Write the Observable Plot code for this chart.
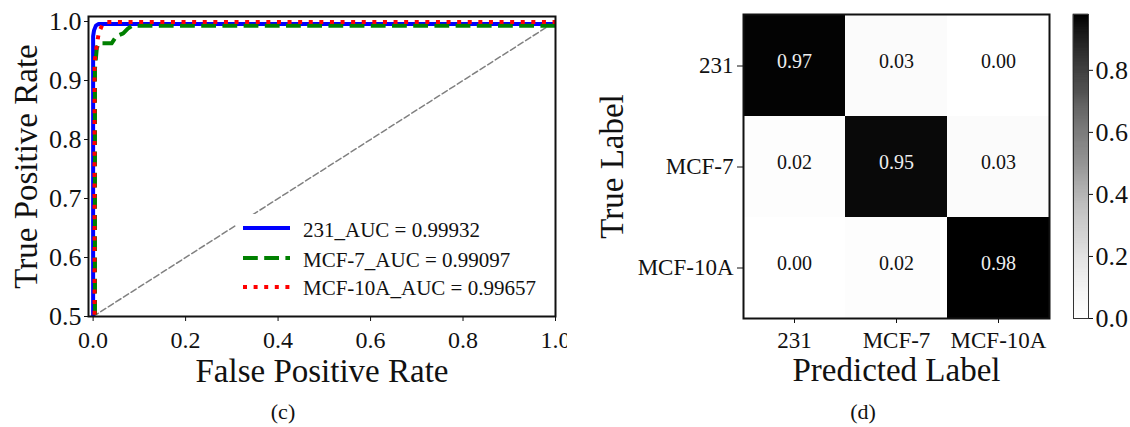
<!DOCTYPE html>
<html><head><meta charset="utf-8">
<script src="https://cdn.jsdelivr.net/npm/d3@7"></script>
<script src="https://cdn.jsdelivr.net/npm/@observablehq/plot@0.6"></script>
<style>
body{margin:0;background:#fff;width:1130px;height:427px;overflow:hidden;position:relative;font-family:"Liberation Serif","Times New Roman",serif;}
.panel{position:absolute;top:0;}
.cap{position:absolute;font-size:22px;line-height:22px;transform:translateX(-50%);color:#111;}
svg{max-width:none !important;}
svg text{font-family:"Liberation Serif","Times New Roman",serif;}
</style></head><body>
<div id="roc" class="panel" style="left:0;width:567px;height:400px;overflow:hidden"></div>
<div id="cm" class="panel" style="left:580px"></div>
<div id="cb" class="panel" style="left:1060px"></div>
<div id="legend" class="panel" style="left:236px;top:214px"></div>
<div class="cap" style="left:283px;top:401px">(c)</div>
<div class="cap" style="left:863px;top:401px">(d)</div>
<script>
// ---------- ROC data ----------
const fpr231 = [0, 0, 0.002, 0.006, 0.012, 1.0, 1.0];
const tpr231 = [0, 0.975, 0.985, 0.993, 0.996, 0.996, 1.0];
const fprMCF7 = [0.004, 0.004, 0.008, 0.012, 0.04, 0.05, 0.065, 0.075, 0.085, 1.0, 1.0];
const tprMCF7 = [0, 0.92, 0.955, 0.963, 0.963, 0.975, 0.98, 0.988, 0.993, 0.993, 1.0];
const fprMCF10A = [0.003, 0.003, 0.008, 0.012, 0.02, 0.03, 1.0];
const tprMCF10A = [0, 0.93, 0.96, 0.98, 0.995, 0.999, 0.999];
const diagX = [0, 1];
const diagY = [0.5, 1];
const seriesNames = ["231_AUC = 0.99932", "MCF-7_AUC = 0.99097", "MCF-10A_AUC = 0.99657"];
const seriesColors = ["#0000ff", "#008000", "#ff0000"];
const seriesDash = [null, "14.8,6.4", "4,6.6"];
const rocXTicks = [0, 0.2, 0.4, 0.6, 0.8, 1.0];
const rocYTicks = [0.5, 0.6, 0.7, 0.8, 0.9, 1.0];

// ---------- Confusion matrix data ----------
const classes = ["231", "MCF-7", "MCF-10A"];
const matrix = [
  [0.97, 0.03, 0.00],
  [0.02, 0.95, 0.03],
  [0.00, 0.02, 0.98]
];
const cbTicks = [0, 0.2, 0.4, 0.6, 0.8];
const cmMax = 0.98;

const zip = (xs, ys) => xs.map((x, i) => ({x, y: ys[i]}));
const roc = [zip(fpr231, tpr231), zip(fprMCF7, tprMCF7), zip(fprMCF10A, tprMCF10A)];
const fmt1 = d3.format(".1f");
const font = "Liberation Serif";

const rocPlot = Plot.plot({
  width: 570, height: 400,
  marginLeft: 88, marginRight: 15, marginTop: 16, marginBottom: 84,
  style: {fontFamily: font, color: "#111", background: "white", maxWidth: "none"},
  x: {domain: [-0.01, 1.0]},
  y: {domain: [0.5, 1.0085]},
  marks: [
    Plot.line(zip(diagX, diagY), {x: "x", y: "y", stroke: "#808080", strokeWidth: 1.5, strokeDasharray: "6,3", clip: true}),
    ...roc.map((d, i) => Plot.line(d, {x: "x", y: "y", stroke: seriesColors[i], strokeWidth: 4,
      strokeDasharray: seriesDash[i], strokeLinecap: "butt", strokeLinejoin: "round", clip: true})),
    Plot.frame({stroke: "#111", strokeWidth: 2}),
    Plot.axisX({ticks: rocXTicks, tickFormat: fmt1, tickSize: 5, tickPadding: 9, fontSize: 24, label: null}),
    Plot.axisY({ticks: rocYTicks, tickFormat: fmt1, tickSize: 4, tickPadding: 3, fontSize: 26, label: null}),
    Plot.text(["False Positive Rate"], {text: d => d, frameAnchor: "bottom", lineAnchor: "middle", textAnchor: "middle", dy: 55, fontSize: 33}),
    Plot.text(["True Positive Rate"], {text: d => d, frameAnchor: "left", lineAnchor: "middle", textAnchor: "middle", rotate: -90, dx: -62, fontSize: 33})
  ]
});
document.getElementById("roc").append(rocPlot);

// legend
{
  const W = 310, H = 90;
  const svg = d3.create("svg").attr("width", W).attr("height", H)
    .style("font-family", font).style("display", "block");
  svg.append("rect").attr("width", W).attr("height", H).attr("fill", "white");
  const lineY = [14, 44, 73];
  const textY = [23, 53, 81];
  seriesNames.forEach((name, i) => {
    svg.append("line").attr("x1", 7).attr("x2", 54).attr("y1", lineY[i]).attr("y2", lineY[i])
      .attr("stroke", seriesColors[i]).attr("stroke-width", 4)
      .attr("stroke-dasharray", seriesDash[i]).attr("stroke-linecap", "butt");
    svg.append("text").attr("x", 67).attr("y", textY[i]).attr("font-size", 21).attr("fill", "#111").text(name);
  });
  document.getElementById("legend").append(svg.node());
}

// ---------- Confusion matrix ----------
const cells = [];
matrix.forEach((row, i) => row.forEach((v, j) => cells.push({t: classes[i], p: classes[j], v})));
const colorOpt = {type: "linear", scheme: "greys", domain: [0, cmMax]};

const cmPlot = Plot.plot({
  width: 490, height: 400,
  marginLeft: 163, marginRight: 21, marginTop: 14, marginBottom: 82,
  style: {fontFamily: font, color: "#111", background: "white", maxWidth: "none"},
  x: {domain: classes, padding: 0},
  y: {domain: classes, padding: 0},
  color: colorOpt,
  marks: [
    Plot.cell(cells, {x: "p", y: "t", fill: "v", inset: 0}),
    Plot.text(cells, {x: "p", y: "t", text: d => d.v.toFixed(2), fill: d => d.v > 0.5 ? "#eeeeee" : "#111111", fontSize: 20, dy: -4}),
    Plot.frame({stroke: "#111", strokeWidth: 2}),
    Plot.axisX({tickSize: 5, tickPadding: 8, fontSize: 23, label: null}),
    Plot.axisY({tickSize: 6, tickPadding: 4, fontSize: 23, label: null}),
    Plot.text(["Predicted Label"], {text: d => d, frameAnchor: "bottom", lineAnchor: "middle", textAnchor: "middle", dy: 52, fontSize: 33}),
    Plot.text(["True Label"], {text: d => d, frameAnchor: "left", lineAnchor: "middle", textAnchor: "middle", rotate: -90, dx: -131, fontSize: 33})
  ]
});
document.getElementById("cm").append(cmPlot);

// ---------- Colorbar ----------
const step = cmMax / 300;
const stops = d3.range(0, cmMax, step);
const cbPlot = Plot.plot({
  width: 70, height: 400,
  marginLeft: 13, marginRight: 42, marginTop: 14, marginBottom: 82,
  style: {fontFamily: font, color: "#111", background: "white", overflow: "visible", maxWidth: "none"},
  x: {domain: [0, 1], axis: null},
  y: {domain: [0, cmMax]},
  color: colorOpt,
  marks: [
    Plot.rect(stops, {x1: () => 0, x2: () => 1, y1: d => d, y2: d => Math.min(cmMax, d + step), fill: d => d, stroke: d => d, strokeWidth: 0.6}),
    Plot.frame({stroke: "#333", strokeWidth: 1}),
    Plot.axisY({anchor: "right", ticks: cbTicks, tickFormat: fmt1, tickSize: 4, tickPadding: 3, fontSize: 26, label: null})
  ]
});
document.getElementById("cb").append(cbPlot);
</script>
</body></html>
